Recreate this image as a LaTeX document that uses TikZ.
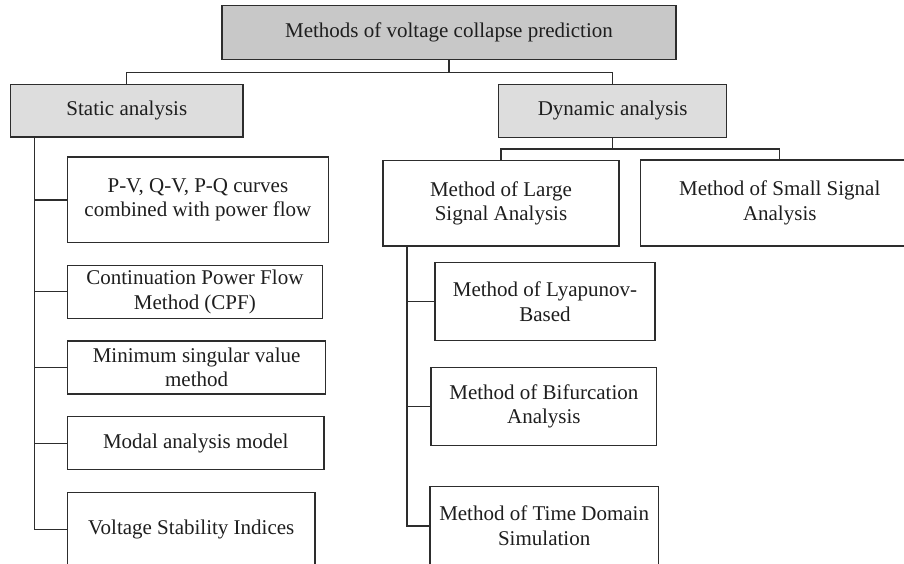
\documentclass[tikz,border=0pt]{standalone}
\usepackage{fontspec}
\setmainfont{Liberation Serif}
\definecolor{topgray}{RGB}{200,200,200}
\definecolor{secgray}{RGB}{221,221,221}
\definecolor{edge}{RGB}{45,45,45}
\definecolor{ink}{RGB}{30,30,30}
\begin{document}
\begin{tikzpicture}[x=1pt,y=-1pt,
  box/.style={draw=edge,line width=1.3pt,rectangle,inner sep=0pt,align=center,
    text=ink,font=\fontsize{21}{24.5}\selectfont},
  conn/.style={draw=edge,line width=1.3pt}]
\useasboundingbox (0,0) rectangle (904,563);
% header boxes
\node[box,fill=topgray,minimum width=454pt,minimum height=53.6pt] (top) at (449,32.5) {Methods of voltage collapse prediction};
\node[box,fill=secgray,minimum width=232.3pt,minimum height=52.7pt] (static) at (126.8,110.7) {Static analysis};
\node[box,fill=secgray,minimum width=228pt,minimum height=53pt] (dyn) at (612.7,110.8) {Dynamic analysis};
% static children
\node[box,minimum width=260.8pt,minimum height=85.7pt] (pv) at (197.9,199.85) {P-V, Q-V, P-Q curves\\combined with power flow};
\node[box,minimum width=254.8pt,minimum height=53pt] (cpf) at (194.9,291.8) {Continuation Power Flow\\Method (CPF)};
\node[box,minimum width=258.2pt,minimum height=53pt] (msv) at (196.6,367.5) {Minimum singular value\\method};
\node[box,minimum width=256.5pt,minimum height=53pt] (modal) at (195.75,443.2) {Modal analysis model};
\node[box,minimum width=247.5pt,minimum height=73.5pt] (vsi) at (191.25,529.25) {Voltage Stability Indices};
% dynamic children
\node[box,minimum width=236pt,minimum height=85.3pt] (large) at (501,203.35) {Method of Large\\Signal Analysis};
\node[box,minimum width=278.5pt,minimum height=86pt] (small) at (779.75,203) {Method of Small Signal\\Analysis};
\node[box,minimum width=220pt,minimum height=78pt] (lyap) at (545,301.7) {Method of Lyapunov-\\Based};
\node[box,minimum width=225.7pt,minimum height=78pt] (bif) at (543.85,406.3) {Method of Bifurcation\\Analysis};
\node[box,minimum width=228.3pt,minimum height=78.3pt] (time) at (544.15,525.85) {Method of Time Domain\\Simulation};
% connectors
\coordinate (j1) at (449,72.7);
\draw[conn] (top.south) -- (j1) -| (static.north);
\draw[conn] (j1) -| (dyn.north);
\coordinate (j2) at (612.7,149);
\draw[conn] (dyn.south) -- (j2) -| (large.north);
\draw[conn] (j2) -| (small.north);
\coordinate (sx) at (34.3,0);
\draw[conn] (sx |- static.south) |- (vsi.west);
\foreach \n in {pv,cpf,msv,modal} \draw[conn] (sx |- \n.west) -- (\n.west);
\coordinate (lx) at (407,0);
\draw[conn] (lx |- large.south) |- (time.west);
\foreach \n in {lyap,bif} \draw[conn] (lx |- \n.west) -- (\n.west);
\end{tikzpicture}
\end{document}
